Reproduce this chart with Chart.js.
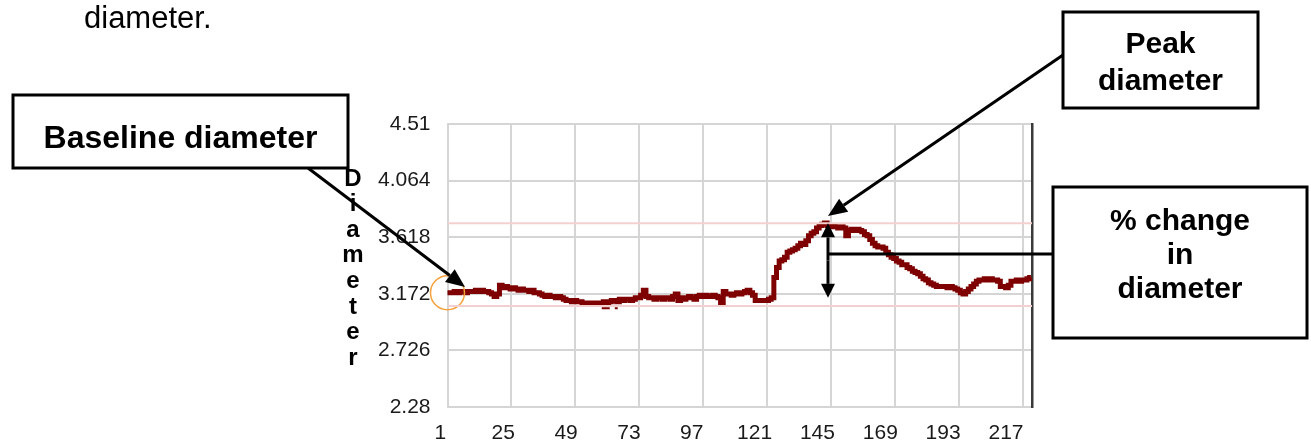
<!DOCTYPE html>
<html><head><meta charset="utf-8">
<script src="https://cdn.jsdelivr.net/npm/chart.js@4.4.1/dist/chart.umd.min.js"></script>
<style>html,body{margin:0;padding:0;background:#fff;overflow:hidden}#wrap{position:relative;width:1311px;height:445px}</style>
</head><body><div id="wrap"><canvas id="c" width="1311" height="445"></canvas></div>
<script>
// ---- data ----
const diameter = [
  3.18,3.18,3.18,3.19,3.18,3.19,3.19,3.18,3.19,3.19,
  3.19,3.20,3.19,3.20,3.19,3.19,3.18,3.17,3.15,3.17,
  3.24,3.22,3.23,3.22,3.21,3.22,3.21,3.20,3.21,3.20,
  3.20,3.19,3.20,3.18,3.18,3.17,3.16,3.15,3.16,3.15,
  3.15,3.14,3.15,3.14,3.13,3.12,3.12,3.11,3.12,3.11,
  3.11,3.10,3.10,3.10,3.10,3.09,3.10,3.10,3.10,3.11,
  3.10,3.11,3.12,3.12,3.11,3.13,3.12,3.13,3.13,3.12,
  3.13,3.14,3.14,3.16,3.20,3.15,3.14,3.14,3.13,3.14,
  3.14,3.13,3.14,3.14,3.13,3.15,3.17,3.12,3.14,3.13,
  3.14,3.15,3.14,3.13,3.15,3.16,3.15,3.16,3.15,3.15,
  3.16,3.15,3.14,3.10,3.19,3.17,3.17,3.16,3.17,3.18,
  3.17,3.18,3.19,3.20,3.18,3.16,3.12,3.12,3.12,3.12,
  3.12,3.13,3.14,3.30,3.38,3.43,3.44,3.46,3.50,3.51,
  3.52,3.53,3.55,3.57,3.56,3.59,3.63,3.65,3.66,3.69,
  3.71,3.72,3.73,3.71,3.70,3.71,3.70,3.69,3.70,3.69,
  3.63,3.67,3.68,3.67,3.68,3.67,3.66,3.64,3.63,3.60,
  3.57,3.55,3.54,3.54,3.53,3.50,3.48,3.46,3.45,3.43,
  3.42,3.40,3.40,3.38,3.37,3.35,3.34,3.33,3.31,3.29,
  3.28,3.26,3.25,3.24,3.23,3.23,3.23,3.23,3.22,3.23,
  3.22,3.21,3.20,3.18,3.17,3.19,3.21,3.23,3.25,3.27,
  3.28,3.28,3.29,3.28,3.29,3.28,3.28,3.27,3.23,3.23,
  3.22,3.24,3.27,3.27,3.28,3.27,3.28,3.28,3.29,3.30
];
const xTickLabels = [1,25,49,73,97,121,145,169,193,217];
const yTickLabels = [2.28,2.726,3.172,3.618,4.064,4.51];
const peakLevel = 3.727;
const lowLevel = 3.076;
const strayX = [58.9,61.9,null,63.8,64.9];
const strayY = [3.058,3.058,null,3.058,3.058];
const axisTitle = 'Diameter';
const headerText = 'diameter.';
const calloutBaseline = ['Baseline diameter'];
const calloutPeak = ['Peak','diameter'];
const calloutChange = ['% change','in','diameter'];

const X_MIN = 1, X_MAX = 220.4;
const SANS = "'Liberation Sans',Arial,Helvetica,sans-serif";
const GRID = '#d5d5d5';
const LINE = '#7f0000';

const seriesPts = diameter.map((v,i)=>({x:i+1,y:v}));
const strayPts = strayX.map((x,i)=> x===null ? {x:NaN,y:null} : {x:x,y:strayY[i]});

function drawArrow(ctx, x1,y1,x2,y2, head=16, half=7){
  const a = Math.atan2(y2-y1, x2-x1);
  const bx = x2 - head*Math.cos(a), by = y2 - head*Math.sin(a);
  ctx.beginPath(); ctx.moveTo(x1,y1); ctx.lineTo(bx,by); ctx.stroke();
  ctx.beginPath();
  ctx.moveTo(x2,y2);
  ctx.lineTo(bx + half*Math.sin(a), by - half*Math.cos(a));
  ctx.lineTo(bx - half*Math.sin(a), by + half*Math.cos(a));
  ctx.closePath(); ctx.fill();
}
function box(ctx, x,y,w,h, lines, font, baselines){
  ctx.fillStyle='#fff'; ctx.fillRect(x,y,w,h);
  ctx.lineWidth=3; ctx.strokeStyle='#000'; ctx.strokeRect(x,y,w,h);
  ctx.fillStyle='#000'; ctx.font=font; ctx.textAlign='center'; ctx.textBaseline='alphabetic';
  lines.forEach((t,i)=>ctx.fillText(t, x+w/2, baselines[i]));
}

const overlay = {
  id:'overlay',
  afterDraw(chart){
    const ctx = chart.ctx, ys = chart.scales.y;
    ctx.save();
    ctx.fillStyle='#000'; ctx.font='31px '+SANS; ctx.textAlign='left'; ctx.textBaseline='alphabetic';
    ctx.fillText(headerText, 84, 28);
    ctx.font='bold 24px '+SANS; ctx.textAlign='center'; ctx.textBaseline='middle';
    [...axisTitle].forEach((ch,i)=>ctx.fillText(ch, 353, 179 + i*25.6));
    ctx.strokeStyle='#000'; ctx.fillStyle='#000'; ctx.lineWidth=3;
    drawArrow(ctx, 308,168, 465,287, 19, 8);
    drawArrow(ctx, 1063,55, 828,216, 19, 8);
    const ax = 828, top = ys.getPixelForValue(peakLevel), bot = ys.getPixelForValue(3.14);
    const mid = (top+bot)/2;
    drawArrow(ctx, ax, mid, ax, top, 14, 7);
    drawArrow(ctx, ax, mid, ax, bot, 14, 7);
    ctx.beginPath(); ctx.moveTo(ax, 254); ctx.lineTo(1053, 254); ctx.stroke();
    box(ctx, 13,95,335,73, calloutBaseline, 'bold 32px '+SANS, [148]);
    box(ctx, 1063,12,195,96, calloutPeak, 'bold 30px '+SANS, [53,90]);
    box(ctx, 1053,187,254,151, calloutChange, 'bold 30px '+SANS, [230,264,298]);
    ctx.restore();
  }
};

new Chart(document.getElementById('c'), {
  type:'line',
  data:{ datasets:[
    {label:'peak', data:[{x:X_MIN,y:peakLevel},{x:X_MAX,y:peakLevel}], borderColor:'#f3d0d0', borderWidth:2, pointRadius:0, xAxisID:'x', yAxisID:'y'},
    {label:'low', data:[{x:X_MIN,y:lowLevel},{x:X_MAX,y:lowLevel}], borderColor:'#f3d0d0', borderWidth:2, pointRadius:0, xAxisID:'x', yAxisID:'y'},
    {label:'stray', data:strayPts, borderColor:LINE, borderWidth:2, pointRadius:0, spanGaps:false, xAxisID:'x', yAxisID:'y'},
    {label:'Diameter', data:seriesPts, borderColor:LINE, borderWidth:5, stepped:'middle', clip:false,
      pointRadius:(c)=>c.dataIndex===0?17:0, pointHoverRadius:0,
      pointBorderColor:'#f5a23c', pointBackgroundColor:'rgba(0,0,0,0)', pointBorderWidth:1.5,
      xAxisID:'x', yAxisID:'y'}
  ]},
  options:{
    responsive:false, animation:false, devicePixelRatio:1,
    layout:{padding:{left:0,right:279,top:124,bottom:0}},
    plugins:{legend:{display:false}, tooltip:{enabled:false}},
    scales:{
      x:{type:'linear', position:'bottom', min:X_MIN, max:X_MAX,
        afterBuildTicks:(s)=>{s.ticks = xTickLabels.map(v=>({value:v}));},
        afterFit:(s)=>{s.height=0;},
        ticks:{display:false}, grid:{color:GRID, lineWidth:2, drawTicks:false},
        border:{color:GRID, width:2}},
      xl:{type:'linear', position:'bottom', min:3.714, max:226.94,
        afterBuildTicks:(s)=>{s.ticks = xTickLabels.map(v=>({value:v}));},
        afterFit:(s)=>{s.height=38;},
        ticks:{display:true, autoSkip:false, maxRotation:0, padding:14, color:'#1a1a1a',
          font:{family:SANS, size:21}, callback:(v)=>String(v)},
        grid:{display:false, drawTicks:false}, border:{display:false}},
      y:{type:'linear', position:'left', min:2.28, max:4.51,
        afterBuildTicks:(s)=>{s.ticks = yTickLabels.map(v=>({value:v}));},
        afterFit:(s)=>{s.width=447.5;},
        ticks:{padding:17, color:'#1a1a1a', font:{family:SANS, size:21}, callback:(v)=>String(v)},
        grid:{color:GRID, lineWidth:2, drawTicks:false}, border:{color:GRID, width:2}},
      yr:{type:'linear', position:'right', min:2.28, max:4.51, display:true,
        afterFit:(s)=>{s.width=0;},
        ticks:{display:false}, grid:{display:false, drawTicks:false},
        border:{display:true, color:'#3a3a3a', width:2.5}}
    }
  },
  plugins:[overlay]
});
</script></body></html>
